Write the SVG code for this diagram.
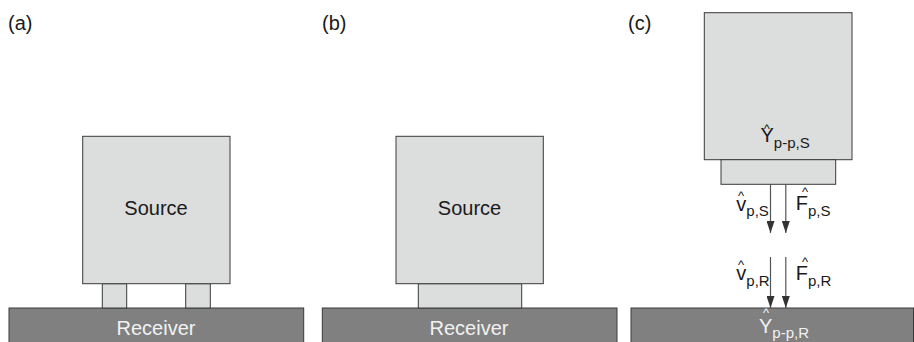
<svg xmlns="http://www.w3.org/2000/svg" width="914" height="342" viewBox="0 0 914 342">
<defs>
<style>
.lt{fill:#dcdddd;stroke:#3a3a3a;stroke-width:1}
.dk{fill:#808080;stroke:#3a3a3a;stroke-width:1}
text{font-family:"Liberation Sans",Arial,sans-serif;font-size:20px;fill:#1a1a1a}
.w{fill:#f2f2f2}
.sub{font-size:15px}
.hat{font-size:13px;text-anchor:middle}
.c{text-anchor:middle}
.ar{stroke:#555;stroke-width:1.2;fill:none;marker-end:url(#ah)}
</style>
<marker id="ah" markerWidth="8" markerHeight="12" refX="4" refY="12" orient="auto-start-reverse" markerUnits="userSpaceOnUse" viewBox="0 0 8 12">
<path d="M0,0 L8,0 L4,12 Z" fill="#333" transform="rotate(-90 4 6) translate(-2 2)"/>
</marker>
<marker id="ah2" markerWidth="12" markerHeight="8" refX="12" refY="4" orient="auto" markerUnits="userSpaceOnUse" viewBox="0 0 12 8">
<path d="M0,0 L12,4 L0,8 Z" fill="#333"/>
</marker>
</defs>

<!-- panel a -->
<text x="8" y="30">(a)</text>
<g id="receiver-a"><rect class="dk" x="9" y="308" width="294.7" height="40"/><text class="c w" x="156" y="334.5">Receiver</text></g>
<g id="leg-a1"><rect class="lt" x="102.3" y="283.7" width="24.4" height="24.3"/></g>
<g id="leg-a2"><rect class="lt" x="185.7" y="283.7" width="24.6" height="24.3"/></g>
<g id="source-a"><rect class="lt" x="82.7" y="136.3" width="147.3" height="147.4"/><text class="c" x="156" y="215">Source</text></g>

<!-- panel b -->
<text x="322" y="30">(b)</text>
<g id="receiver-b"><rect class="dk" x="322.3" y="308" width="294.7" height="40"/><text class="c w" x="469" y="334.5">Receiver</text></g>
<g id="block-b"><rect class="lt" x="418.3" y="283.7" width="103.4" height="24.3"/></g>
<g id="source-b"><rect class="lt" x="396" y="136.3" width="147.3" height="147.4"/><text class="c" x="469.5" y="215">Source</text></g>

<!-- panel c -->
<text x="628" y="30">(c)</text>
<g id="receiver-c"><rect class="dk" x="631" y="308" width="282.5" height="40"/>
<text class="hat w" x="766" y="316.6">^</text>
<text class="w" x="759" y="333.3">Y<tspan class="sub" dy="5">p-p,R</tspan></text></g>
<g id="source-c"><rect class="lt" x="704.3" y="12.7" width="147.7" height="147"/>
<text class="hat" x="766.7" y="133.3">^</text>
<text x="760.5" y="141.5">Y<tspan class="sub" dy="6">p-p,S</tspan></text></g>
<g id="block-c"><rect class="lt" x="721" y="159.7" width="114.7" height="24.6"/></g>

<g id="connectors">
<line style="stroke:#555;stroke-width:1.2;marker-end:url(#ah2)" x1="770.5" y1="184.3" x2="770.5" y2="233"/>
<line style="stroke:#555;stroke-width:1.2;marker-end:url(#ah2)" x1="785.8" y1="184.3" x2="785.8" y2="233"/>
<line style="stroke:#555;stroke-width:1.2;marker-end:url(#ah2)" x1="770.5" y1="257" x2="770.5" y2="308"/>
<line style="stroke:#555;stroke-width:1.2;marker-end:url(#ah2)" x1="785.8" y1="257" x2="785.8" y2="308"/>
</g>

<g id="labels">
<text class="hat" x="741" y="200">^</text>
<text x="736.3" y="210.5">v<tspan class="sub" dy="5.5">p,S</tspan></text>
<text class="hat" x="805" y="196">^</text>
<text x="795.7" y="209.5">F<tspan class="sub" dy="6">p,S</tspan></text>
<text class="hat" x="741" y="269.3">^</text>
<text x="736.3" y="280">v<tspan class="sub" dy="6">p,R</tspan></text>
<text class="hat" x="805" y="266">^</text>
<text x="795.7" y="279.5">F<tspan class="sub" dy="6">p,R</tspan></text>
</g>
</svg>
